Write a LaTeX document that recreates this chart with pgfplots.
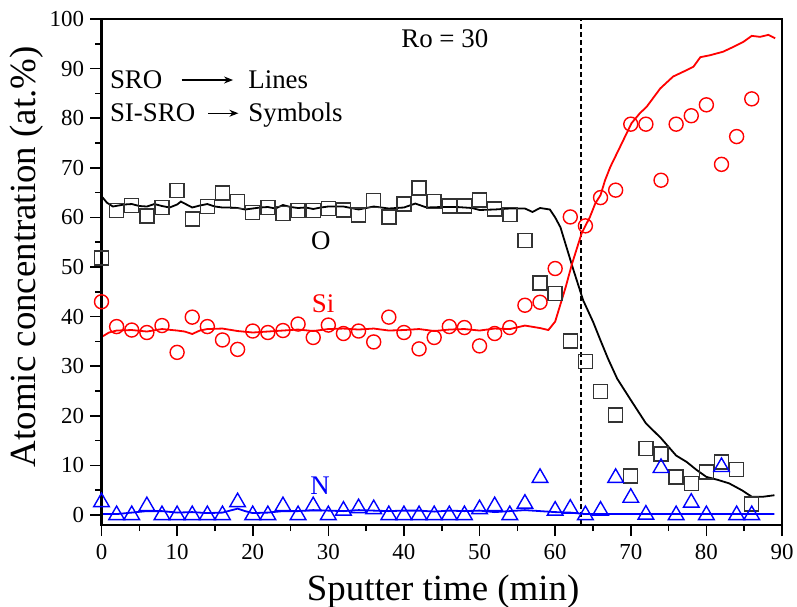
\documentclass[border=0pt]{standalone}
\usepackage{fontspec}
\setmainfont{Liberation Serif}
\usepackage{pgfplots}
\pgfplotsset{compat=1.18}
\usetikzlibrary{arrows.meta}
\definecolor{myred}{RGB}{255,0,0}
\definecolor{myblue}{RGB}{0,0,255}
\begin{document}
\begin{tikzpicture}
\begin{axis}[
  scale only axis, width=680.5bp, height=506bp,
  xmin=0, xmax=90, ymin=-2, ymax=100,
  xtick={0,10,...,90}, ytick={0,10,...,100},
  minor x tick num=1, minor y tick num=1,
  tick pos=left, tick align=outside,
  major tick length=11bp, minor tick length=6bp,
  every tick/.append style={black, line width=1.6bp},
  axis line style={draw=black, line width=2.2bp},
  /pgf/number format/assume math mode=true,
  ticklabel style={font=\fontsize{23}{23}\selectfont},
  xticklabel style={yshift=-5bp},
  yticklabel style={xshift=-3bp},
  xlabel={Sputter time (min)},
  ylabel={Atomic concentration (at.\%)},
  label style={font=\fontsize{37}{37}\selectfont},
  xlabel style={at={(axis description cs:0.502,0)}, anchor=base, yshift=-75bp},
  ylabel style={at={(axis description cs:0,0.53)}, anchor=center, yshift=74.5bp},
  clip=false,
]
% dashed separator
\addplot[black, line width=1.3bp, dash pattern=on 5bp off 3bp] coordinates {(63.4,-2) (63.4,100)};

% SRO lines
\addplot[black, line width=1.8bp] coordinates {
(0,64.3) (0.7,63) (1.5,62.2) (3,62.6) (4,62.7) (5,62.3) (6,62.2) (7,62.7) (8,62.3) (9,62)
(10,62.6) (10.5,63.2) (11,62.8) (12,62) (13,62.4) (14,62.7) (15,62.2) (16,62) (17,62)
(18,61.9) (19,61.6) (20,61.8) (21,62) (22,62.1) (23,61.8) (24,62.5) (25,62.1) (26,61.9)
(27,62) (28,61.7) (29,62) (30,62.2) (32,62.2) (34,61.6) (36,62.2) (38,61.8) (40,62)
(41.5,62.8) (43,62) (45,62.1) (47,62.1) (49,61.9) (50,61.5) (52,61.6) (54,61.8) (56,61.8)
(57,61.1) (58,61.9) (59.3,61.6) (60,60) (60.7,58) (61.5,54) (62.4,49.5) (63.7,43.3)
(65,39) (66,35.2) (67,31.5) (68.2,27.5) (70,23.2) (72,18.5) (74,15.5) (76,12) (77.4,10.7)
(78.7,9.1) (80,7.7) (81.5,7.1) (83,6.4) (84.7,5) (86,3.7) (87.5,3.7) (89,4)
};
\addplot[myred, line width=1.8bp] coordinates {
(0,35.9) (1,36.8) (2,37.2) (4,37.3) (6,37) (8,37.5) (10,37.2) (11,37) (12,36.5) (13,37.2)
(14,37.5) (16,37.6) (18,37.1) (20,36.8) (22,37) (24,37.2) (26,37.4) (28,37.1) (30,37.5)
(32,37.6) (34,37.4) (36,37.6) (38,37.2) (40,37.3) (42,37.5) (44,37.1) (46,37.4) (48,37.5)
(50,37.2) (52,37.6) (54,37.5) (56,38.2) (58,37.7) (59.1,37.3) (60,39) (60.6,42) (61.4,46)
(62.2,50.5) (63.5,56.8) (64.6,60.1) (65.3,62.8) (66,64.5) (66.6,67.5) (67.3,70.2)
(68.8,74.9) (70.1,79) (71.2,81) (72.1,82.3) (73.9,86) (75.6,88.4) (77.4,89.7) (78.3,90.4)
(79.2,92.3) (80.5,92.7) (82.2,93.4) (83.6,94.4) (84.9,95.4) (86,96.6) (87.1,96.4)
(88.2,96.8) (89.1,96.1)
};
\addplot[myblue, line width=1.8bp] coordinates {
(0,0.2) (2,0.2) (4,0.5) (6,0.8) (8,0.8) (10,0.5) (12,0.6) (14,0.4) (16,0.5) (18,1.3)
(19,0.8) (20,0.4) (22,0.5) (24,0.8) (26,0.8) (28,1.0) (30,0.9) (32,0.8) (34,1.0) (36,0.9)
(38,0.8) (40,0.9) (42,0.9) (44,0.7) (46,0.9) (48,0.8) (50,0.9) (52,0.6) (54,0.8) (56,1.0)
(58,0.8) (60,0.6) (62,0.5) (64,0.2) (70,0.2) (80,0.2) (89,0.2)
};

% SI-SRO symbols
\addplot[only marks, mark=square, mark size=7bp, mark options={draw=black!80, line width=1.4bp}] coordinates {
(0,51.8) (2,61.4) (4,62.4) (6,60.3) (8,62) (10,65.4) (12,59.7) (14,62.2) (16,64.9) (18,63.2)
(20,61) (22,62) (24,60.8) (26,61.4) (28,61.4) (30,61.8) (32,61.5) (34,60.5) (36,63.4)
(38,60.1) (40,62.7) (42,65.9) (44,63.2) (46,62.3) (48,62.3) (50,63.5) (52,61.7) (54,60.6)
(56,55.4) (58,46.8) (60,44.7) (62,35.1) (64,30.9) (66,24.9) (68,20.2) (70,7.9) (72,13.4)
(74,12.3) (76,7.7) (78,6.4) (80,8.7) (82,10.7) (84,9.2) (86,2.2)
};
\addplot[only marks, mark=o, mark size=7bp, mark options={draw=myred, line width=1.4bp}] coordinates {
(0,43) (2,38) (4,37.3) (6,36.8) (8,38.2) (10,32.8) (12,39.9) (14,38) (16,35.3) (18,33.4)
(20,37.1) (22,36.8) (24,37.2) (26,38.5) (28,35.8) (30,38.3) (32,36.6) (34,37.1) (36,34.9)
(38,39.9) (40,36.8) (42,33.5) (44,35.8) (46,38) (48,37.8) (50,34.1) (52,36.6) (54,37.8)
(56,42.3) (58,42.9) (60,49.7) (62,60.1) (64,58.3) (66,64) (68,65.5) (70,78.8) (72,78.8)
(74,67.5) (76,78.8) (78,80.5) (80,82.7) (82,70.7) (84,76.3) (86,83.9)
};
\addplot[only marks, mark=triangle, mark size=9bp, mark options={draw=myblue, line width=1.4bp}] coordinates {
(0,2.6) (2,0) (4,0) (6,1.8) (8,0) (10,0) (12,0) (14,0) (16,0) (18,2.6) (20,0) (22,0)
(24,1.8) (26,0) (28,1.8) (30,0) (32,0.9) (34,1.4) (36,1.2) (38,0) (40,0) (42,0) (44,0)
(46,0) (48,0) (50,1.2) (52,1.8) (54,0) (56,2.3) (58,7.5) (60,0.9) (62,1.3) (64,0) (66,0.9)
(68,7.5) (70,3.5) (72,0.1) (74,9.5) (76,0) (78,2.5) (80,0) (82,9.7) (84,0) (86,0)
};

% annotations
\node[font=\fontsize{27}{27}\selectfont, black] at (axis cs:29,55.4) {O};
\node[font=\fontsize{27}{27}\selectfont, myred] at (axis cs:29.3,42.7) {Si};
\node[font=\fontsize{27}{27}\selectfont, myblue] at (axis cs:28.9,6) {N};
\node[font=\fontsize{27}{27}\selectfont, black] at (axis cs:45.4,96) {Ro = 30};
\node[font=\fontsize{27}{27}\selectfont, anchor=base west, inner sep=0pt] at (axis cs:1.1,86) {SRO};
\node[font=\fontsize{27}{27}\selectfont, anchor=base west, inner sep=0pt] at (axis cs:19.4,86) {Lines};
\node[font=\fontsize{27}{27}\selectfont, anchor=base west, inner sep=0pt] at (axis cs:1.1,79.3) {SI-SRO};
\node[font=\fontsize{27}{27}\selectfont, anchor=base west, inner sep=0pt] at (axis cs:19.4,79.3) {Symbols};
\draw[-{Stealth[length=9bp,width=7bp]}, line width=1.2bp] (axis cs:10.6,87.7) -- (axis cs:17.4,87.7);
\draw[-{Stealth[length=9bp,width=7bp]}, line width=1.2bp] (axis cs:14.1,81) -- (axis cs:18.1,81);

\draw[black, line width=2.2bp] (rel axis cs:0,0) rectangle (rel axis cs:1,1);
\coordinate (SW) at (rel axis cs:0,0);
\coordinate (NE) at (rel axis cs:1,1);
\end{axis}
\pgfresetboundingbox
\path[use as bounding box] ([shift={(-101.5bp,-82bp)}]SW) rectangle ([shift={(15bp,19bp)}]NE);
\end{tikzpicture}
\end{document}
